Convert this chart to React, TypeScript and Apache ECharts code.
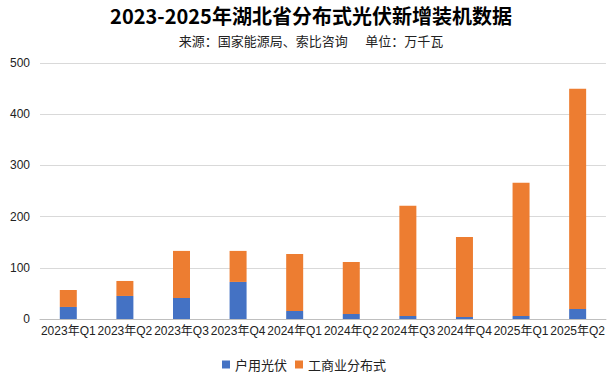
import React, { useEffect, useRef } from "react";
import * as echarts from "echarts";

const categories = ["2023年Q1", "2023年Q2", "2023年Q3", "2023年Q4", "2024年Q1", "2024年Q2", "2024年Q3", "2024年Q4", "2025年Q1", "2025年Q2"];
const household = [23.5, 45, 41, 72.4, 15.6, 9.8, 5.9, 3.9, 5.9, 19.6];
const commercial = [33.2, 29.3, 92, 60.6, 111.5, 101.7, 215.1, 156.5, 260.1, 430.2];
const seriesNames = ["户用光伏", "工商业分布式"];
const titleText = "2023-2025年湖北省分布式光伏新增装机数据";
const subtitleText = "来源：国家能源局、索比咨询      单位：万千瓦";

export default function App() {
  const ref = useRef<HTMLDivElement>(null);
  useEffect(() => {
    document.body.style.margin = "0";
    const chart = echarts.init(ref.current!, null, { renderer: "svg" });
    const font = "Liberation Sans, Arial, Noto Sans CJK SC, sans-serif";
    const cjk = "Noto Sans CJK SC, sans-serif";
    chart.setOption({
      animation: false,
      backgroundColor: "#ffffff",
      graphic: [
        {
          type: "text",
          x: 311,
          y: 15,
          style: {
            text: titleText,
            fontSize: 20,
            fontWeight: "bold",
            fill: "#000",
            fontFamily: cjk,
            align: "center",
            verticalAlign: "middle",
          },
        },
        {
          type: "text",
          x: 311,
          y: 40,
          style: {
            text: subtitleText,
            fontSize: 13,
            fill: "#222",
            fontFamily: cjk,
            align: "center",
            verticalAlign: "middle",
          },
        },
      ],
      legend: {
        data: seriesNames,
        bottom: 4,
        left: "center",
        itemWidth: 8,
        itemHeight: 8,
        itemGap: 8,
        icon: "rect",
        textStyle: { fontSize: 13, color: "#222", fontFamily: cjk },
      },
      grid: { left: 40, right: 2, top: 63, bottom: 61 },
      xAxis: {
        type: "category",
        data: categories,
        axisLine: { lineStyle: { color: "#bfbfbf" } },
        axisTick: { show: false },
        axisLabel: { interval: 0, fontSize: 12, color: "#222", margin: 6, fontFamily: font },
      },
      yAxis: {
        type: "value",
        min: 0,
        max: 500,
        interval: 100,
        axisLine: { show: false },
        axisTick: { show: false },
        splitLine: { lineStyle: { color: "#d9d9d9" } },
        axisLabel: { fontSize: 12, color: "#222", margin: 10, fontFamily: font },
      },
      series: [
        {
          name: seriesNames[0],
          type: "bar",
          stack: "total",
          data: household,
          barWidth: 17,
          itemStyle: { color: "#4472C4" },
        },
        {
          name: seriesNames[1],
          type: "bar",
          stack: "total",
          data: commercial,
          barWidth: 17,
          itemStyle: { color: "#ED7D31" },
        },
      ],
    });
    return () => chart.dispose();
  }, []);
  return <div ref={ref} style={{ width: 608, height: 380 }} />;
}
